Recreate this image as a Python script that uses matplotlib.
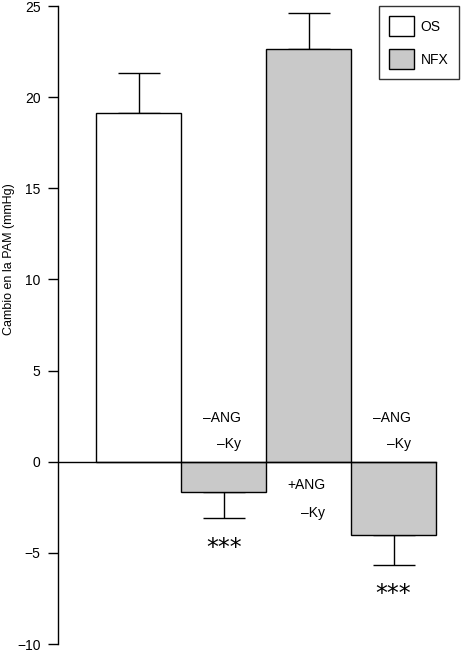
import matplotlib.pyplot as plt
from matplotlib.patches import Patch

plt.rcParams['font.family'] = ['Liberation Sans', 'DejaVu Sans']

values = [19.15, -1.65, 22.65, -4.0]
errors = [2.15, 1.45, 1.95, 1.65]
groups = ['OS', 'NFX', 'NFX', 'NFX']
ang_labels = ['', '\u2013ANG', '+ANG', '\u2013ANG']
ky_labels = ['', '\u2013Ky', '\u2013Ky', '\u2013Ky']
stars = ['', '***', '', '***']

colors = {'OS': 'white', 'NFX': '#c9c9c9'}
x = list(range(len(values)))

fig = plt.figure(figsize=(4.67, 6.56), dpi=100)
ax = fig.add_axes([58 / 467, 12 / 656, 409 / 467, 638 / 656])

ax.bar(x, values, width=1.0, color=[colors[g] for g in groups],
       edgecolor='black', linewidth=1.0, zorder=2)

# one-sided error bars, away from zero
for xi, v, e in zip(x, values, errors):
    lo = [0] if v > 0 else [e]
    hi = [e] if v > 0 else [0]
    ax.errorbar(xi, v, yerr=[lo, hi], fmt='none', ecolor='black',
                elinewidth=1.0, capsize=15, capthick=1.0, zorder=1)

ax.plot([-0.953, 3.5], [0, 0], color='black', linewidth=1.0, zorder=3)

# annotations next to bars
for xi, v, a, k, s, e in zip(x, values, ang_labels, ky_labels, stars, errors):
    if not a:
        continue
    if v < 0:
        ax.text(xi + 0.2, 2.4, a, ha='right', va='center', fontsize=10)
        ax.text(xi + 0.2, 0.95, k, ha='right', va='center', fontsize=10)
        ax.text(xi, v - e - 2.0, s, ha='center', va='baseline',
                fontsize=17, family='DejaVu Sans')
    else:
        ax.text(xi + 0.2, -1.3, a, ha='right', va='center', fontsize=10)
        ax.text(xi + 0.19, -2.8, k, ha='right', va='center', fontsize=10)

ax.set_xlim(-0.953, 3.865)
ax.set_ylim(-10, 25)
ax.set_yticks(range(-10, 26, 5))
ax.set_yticklabels(['\u221210', '\u22125', '0', '5', '10', '15', '20', '25'])
ax.set_xticks([])
ax.tick_params(axis='y', direction='out', length=7, width=1, labelsize=10, pad=5.5)
for side in ['top', 'right', 'bottom']:
    ax.spines[side].set_visible(False)
ax.spines['left'].set_linewidth(1.0)

ax.set_ylabel('Cambio en la PAM (mmHg)', fontsize=9)
ax.yaxis.set_label_coords(-0.105, 0.603)

handles = [Patch(facecolor=colors['OS'], edgecolor='black', label='OS'),
           Patch(facecolor=colors['NFX'], edgecolor='black', label='NFX')]
leg = ax.legend(handles=handles, loc='upper right', bbox_to_anchor=(0.98, 1.0),
                borderaxespad=0, fontsize=10, frameon=True, fancybox=False,
                edgecolor='black', handlelength=1.8, handleheight=1.8,
                labelspacing=0.95, borderpad=0.75, handletextpad=0.45)
leg.get_frame().set_linewidth(1.0)

fig.savefig('out.png', dpi=100)
